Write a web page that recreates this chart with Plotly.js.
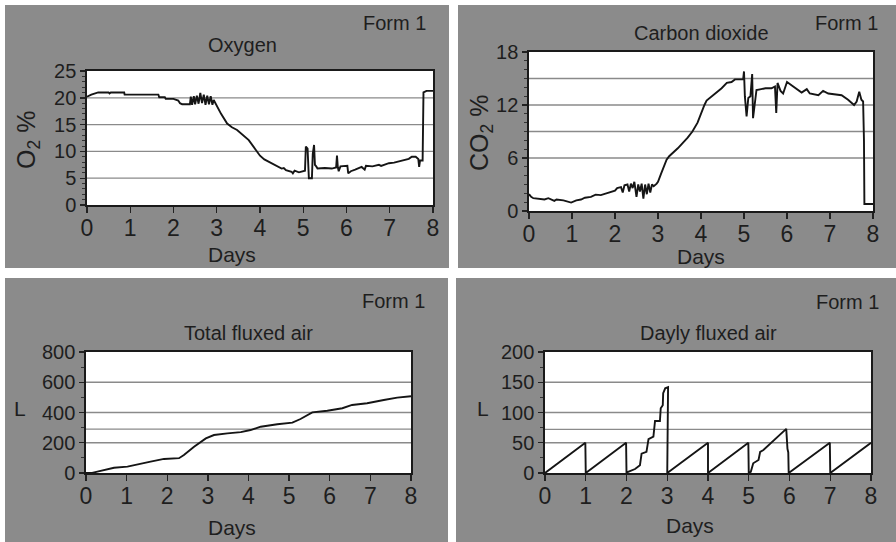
<!DOCTYPE html>
<html>
<head>
<meta charset="utf-8">
<script src="https://cdn.plot.ly/plotly-3.0.1.min.js"></script>
<style>html,body{margin:0;padding:0;background:#fff;}#chart{width:896px;height:542px;}</style>
</head>
<body>
<div id="chart"></div>
<script>
// ---------- DATA ----------
const xTicks = [0, 1, 2, 3, 4, 5, 6, 7, 8];

const o2Days = [0,0.1,0.26,0.5,0.52,0.55,0.86,0.87,1.3,1.65,1.67,1.8,1.82,2.0,2.11,2.15,2.2,2.38,2.4,2.43,2.47,2.5,2.54,2.58,2.62,2.66,2.7,2.74,2.78,2.82,2.86,2.9,2.93,3.0,3.1,3.24,3.35,3.47,3.6,3.74,3.9,4.0,4.1,4.19,4.35,4.5,4.55,4.6,4.73,4.76,4.8,4.9,5.04,5.06,5.1,5.13,5.2,5.22,5.25,5.27,5.3,5.33,5.5,5.66,5.76,5.78,5.8,5.82,5.86,6.02,6.04,6.1,6.2,6.35,6.42,6.45,6.6,6.75,6.8,6.98,7.1,7.21,7.3,7.44,7.51,7.6,7.66,7.68,7.7,7.76,7.78,7.85,8.0];
const o2Vals = [20.2,20.6,21.0,21.0,20.8,21.0,21.0,20.6,20.6,20.6,20.1,20.1,19.8,19.8,19.5,19.0,18.8,18.8,20.2,18.7,20.3,18.8,20.4,18.9,20.9,19.0,20.6,18.7,20.4,18.8,20.3,18.7,19.6,18.5,17.0,15.2,14.5,14.0,13.0,12.1,10.3,9.2,8.5,8.1,7.5,6.8,6.9,6.5,6.2,5.9,6.4,6.1,6.4,10.9,10.5,5.0,5.0,9.5,11.2,7.5,7.2,6.8,6.9,6.8,7.0,9.2,7.0,6.3,7.2,7.3,5.9,6.3,6.6,7.1,6.6,7.3,7.2,7.5,7.3,7.8,7.9,8.1,8.3,8.6,9.0,9.0,8.6,7.1,8.3,8.3,21.0,21.3,21.3];

const co2Days = [0,0.05,0.1,0.36,0.45,0.59,0.64,0.8,0.98,1.1,1.21,1.3,1.44,1.55,1.67,1.8,1.91,2.0,2.05,2.14,2.18,2.22,2.29,2.33,2.37,2.41,2.45,2.5,2.54,2.58,2.62,2.66,2.7,2.74,2.78,2.82,2.86,2.9,2.97,3.0,3.07,3.15,3.2,3.26,3.46,3.69,3.8,3.92,4.02,4.08,4.13,4.33,4.48,4.6,4.71,4.79,4.98,5.0,5.02,5.06,5.1,5.15,5.19,5.21,5.25,5.29,5.4,5.5,5.64,5.72,5.75,5.78,5.85,5.91,6.0,6.18,6.3,6.34,6.46,6.53,6.73,6.84,6.96,7.11,7.27,7.42,7.56,7.62,7.68,7.73,7.77,7.79,7.8,8.0];
const co2Vals = [1.9,1.6,1.45,1.3,1.45,1.15,1.3,1.2,0.95,1.2,1.3,1.5,1.6,1.85,1.8,2.0,2.2,2.3,2.6,2.7,2.1,2.9,3.0,2.2,3.1,2.6,3.3,1.6,3.0,2.2,3.1,1.4,3.0,1.9,3.1,2.1,3.0,2.8,3.1,3.3,4.2,5.1,5.8,6.2,7.1,8.3,9.0,10.0,11.4,12.0,12.5,13.3,13.9,14.5,14.6,14.9,14.9,15.8,13.0,10.7,12.8,13.0,15.5,10.5,12.0,13.7,13.8,13.9,13.9,14.1,11.1,14.5,13.6,13.3,14.6,14.0,13.5,13.4,13.8,13.3,13.1,13.6,13.3,13.2,13.1,12.6,12.0,12.4,13.5,12.6,12.4,8.0,0.8,0.8];

const totalDays = [0,0.15,0.28,0.5,0.69,1.02,1.26,1.59,1.92,2.1,2.29,2.41,2.66,2.95,3.15,3.48,3.81,4.05,4.3,4.71,5.08,5.28,5.57,5.94,6.31,6.55,6.92,7.33,7.66,8.0];
const totalVals = [0,1,9,22,35,42,57,75,93,96,98,119,174,229,251,262,270,284,306,322,333,357,401,412,428,450,461,483,498,508];

const dailyDays = [0,0.99,1.0,1.99,2.0,2.04,2.21,2.33,2.37,2.49,2.54,2.66,2.70,2.82,2.84,2.89,2.90,2.95,3.02,3.0,4.0,4.0,4.99,5.0,5.05,5.11,5.24,5.28,5.36,5.92,5.95,5.97,5.98,6.99,7.0,8.0];
const dailyVals = [0,50,0,50,0,2,6.6,13,32,35,56,60,86,86,107,112,132,140,142,0,50,0,50,0,2,16,21.5,35,38,73,40,34,0,50,0,50];

const o2Grid = [5, 10, 15, 20];
const co2Grid = [6, 9, 12, 15];
const totalGrid = [200, 290, 400, 600];
const dailyGrid = [50, 72, 100, 150];

// ---------- STYLE ----------
const W = 896, H = 542;
const px = v => v / W, py = v => 1 - v / H;
const FONT = 'Liberation Sans, Arial, sans-serif';
const TXT = '#1e1e1e';
const GRAY = '#8b8b8b';

const line = {color: '#151515', width: 1.9};
const traces = [
  {x: o2Days, y: o2Vals, xaxis: 'x', yaxis: 'y', mode: 'lines', line: line, hoverinfo: 'skip'},
  {x: co2Days, y: co2Vals, xaxis: 'x2', yaxis: 'y2', mode: 'lines', line: line, hoverinfo: 'skip'},
  {x: totalDays, y: totalVals, xaxis: 'x3', yaxis: 'y3', mode: 'lines', line: line, hoverinfo: 'skip'},
  {x: dailyDays, y: dailyVals, xaxis: 'x4', yaxis: 'y4', mode: 'lines', line: line, hoverinfo: 'skip'}
];

function xAxis(dom, anchor) {
  return {domain: dom, anchor: anchor, range: [0, 8], tickvals: xTicks, ticktext: xTicks.map(String),
    ticks: 'outside', ticklen: 6, tickwidth: 1.4, tickcolor: '#222',
    ticklabelstandoff: -4,
    showline: true, linecolor: '#1a1a1a', linewidth: 1.7, mirror: true,
    showgrid: false, zeroline: false, fixedrange: true,
    tickfont: {family: FONT, size: 23, color: TXT}};
}
function yAxis(dom, anchor, max, dtick, minor) {
  return {domain: dom, anchor: anchor, range: [0, max], dtick: dtick, tick0: 0,
    ticks: 'outside', ticklen: 5, tickwidth: 1.4, tickcolor: '#222',
    minor: {dtick: minor, ticks: 'outside', ticklen: 3, tickcolor: '#333', tickwidth: 1, showgrid: false},
    showline: true, linecolor: '#1a1a1a', linewidth: 1.7, mirror: true,
    showgrid: false, zeroline: false, fixedrange: true,
    tickfont: {family: FONT, size: 20, color: TXT}};
}

const dom = {
  x1: [px(87), px(433)], y1: [py(205), py(71)],
  x2: [px(529), px(873)], y2: [py(211), py(52)],
  x3: [px(86), px(411)], y3: [py(473), py(352)],
  x4: [px(545), px(871)], y4: [py(473), py(352)]
};

const shapes = [];
// gray panel backgrounds
[[5, 449, 5, 268], [458, 896, 5, 268], [5, 448, 278, 542], [456, 896, 278, 542]].forEach(r => {
  shapes.push({type: 'rect', xref: 'paper', yref: 'paper', x0: px(r[0]), x1: px(r[1]), y0: py(r[3]), y1: py(r[2]),
    fillcolor: GRAY, line: {width: 0}, layer: 'below'});
});
// white plot areas
[['x1', 'y1'], ['x2', 'y2'], ['x3', 'y3'], ['x4', 'y4']].forEach(k => {
  shapes.push({type: 'rect', xref: 'paper', yref: 'paper', x0: dom[k[0]][0], x1: dom[k[0]][1], y0: dom[k[1]][0], y1: dom[k[1]][1],
    fillcolor: '#ffffff', line: {width: 0}, layer: 'below'});
});
function grid(vals, xa, ya) {
  vals.forEach(v => shapes.push({type: 'line', xref: xa + ' domain', yref: ya, x0: 0, x1: 1, y0: v, y1: v,
    line: {color: '#8a8a8a', width: 1.3}, layer: 'below'}));
}
grid(o2Grid, 'x', 'y');
grid(co2Grid, 'x2', 'y2');
grid(totalGrid, 'x3', 'y3');
grid(dailyGrid, 'x4', 'y4');

function ann(text, x, y, size, xanchor, angle) {
  return {text: text, xref: 'paper', yref: 'paper', x: px(x), y: py(y), xanchor: xanchor || 'center', yanchor: 'middle',
    showarrow: false, textangle: angle || 0, font: {family: FONT, size: size, color: TXT}};
}
const annotations = [
  ann('Form 1', 428, 23, 20, 'right'),
  ann('Oxygen', 242, 45, 20),
  ann('Days', 232, 254, 21),
  ann('O<sub>2</sub> %', 28, 140, 25, 'center', -90),

  ann('Form 1', 880, 23, 20, 'right'),
  ann('Carbon dioxide', 701, 33, 20),
  ann('Days', 701, 256, 21),
  ann('CO<sub>2</sub> %', 481, 133, 25, 'center', -90),

  ann('Form 1', 427, 301, 20, 'right'),
  ann('Total fluxed air', 248, 333, 20),
  ann('L', 20, 408, 21),
  ann('Days', 232, 527, 21),

  ann('Form 1', 881, 302, 20, 'right'),
  ann('Dayly fluxed air', 708, 333, 20),
  ann('L', 483, 408, 21),
  ann('Days', 690, 525, 21)
];

const layout = {
  width: W, height: H, margin: {l: 0, r: 0, t: 0, b: 0},
  paper_bgcolor: '#ffffff', plot_bgcolor: 'rgba(0,0,0,0)', showlegend: false,
  font: {family: FONT, color: TXT},
  xaxis: xAxis(dom.x1, 'y'), yaxis: yAxis(dom.y1, 'x', 25, 5, 1),
  xaxis2: xAxis(dom.x2, 'y2'), yaxis2: yAxis(dom.y2, 'x2', 18, 6, 1),
  xaxis3: xAxis(dom.x3, 'y3'), yaxis3: yAxis(dom.y3, 'x3', 800, 200, 100),
  xaxis4: xAxis(dom.x4, 'y4'), yaxis4: yAxis(dom.y4, 'x4', 200, 50, 25),
  shapes: shapes, annotations: annotations
};

Plotly.newPlot('chart', traces, layout, {staticPlot: true, displayModeBar: false});
</script>
</body>
</html>
